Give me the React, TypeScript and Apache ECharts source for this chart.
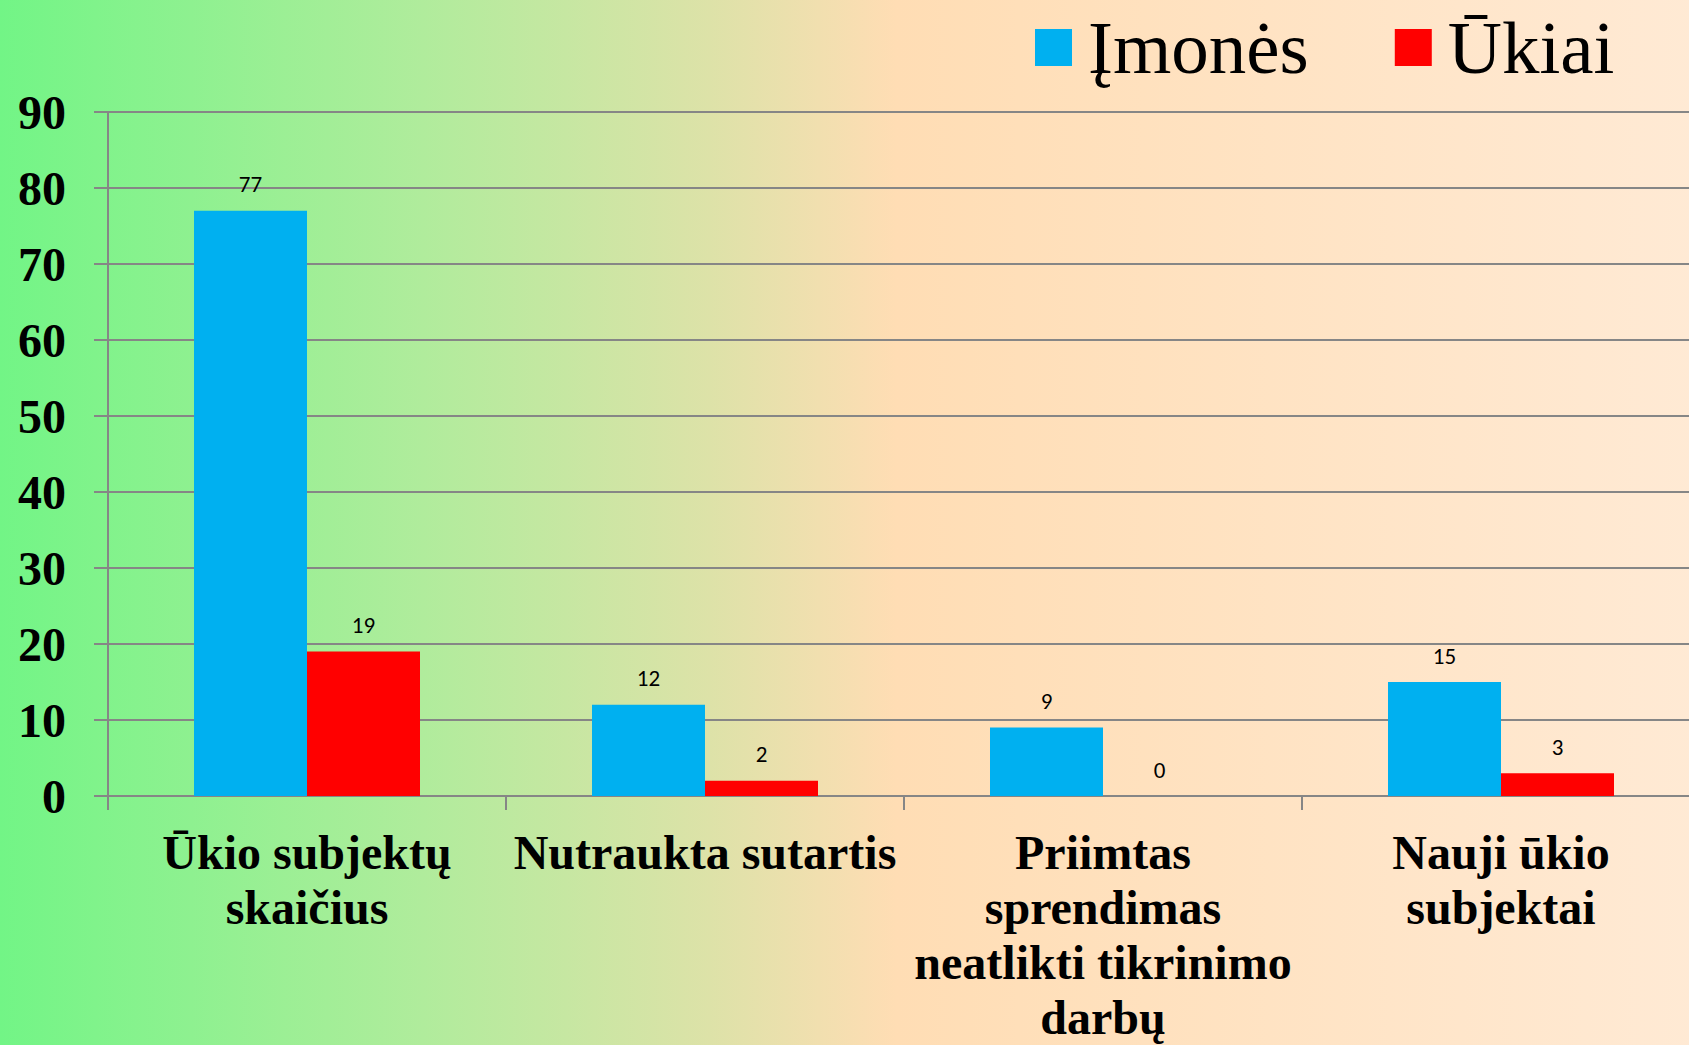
import React, { useEffect, useRef } from "react";
import * as echarts from "echarts";

const categories = [
  "Ūkio subjektų\nskaičius",
  "Nutraukta sutartis",
  "Priimtas\nsprendimas\nneatlikti tikrinimo\ndarbų",
  "Nauji ūkio\nsubjektai",
];
const seriesNames = ["Įmonės", "Ūkiai"];
const imones = [77, 12, 9, 15];
const ukiai = [19, 2, 0, 3];
const yTicks = { min: 0, max: 90, interval: 10 };

export default function App() {
  const ref = useRef<HTMLDivElement>(null);
  useEffect(() => {
    if (!ref.current) return;
    const chart = echarts.init(ref.current, null, { renderer: "svg" });
    const serif = "'Liberation Serif', 'Times New Roman', serif";
    const labelFont = "'Carlito', 'Open Sans', sans-serif";
    chart.setOption({
      animation: false,
      backgroundColor: new echarts.graphic.LinearGradient(0, 0, 1, 0, [
        { offset: 0, color: "#72F586" },
        { offset: 0.247, color: "#B0EC9C" },
        { offset: 0.415, color: "#DDE2A8" },
        { offset: 0.524, color: "#FFDDB4" },
        { offset: 1, color: "#FFEAD5" },
      ]),
      legend: {
        left: 1030,
        top: 5,
        itemWidth: 37,
        itemHeight: 37,
        itemGap: 86,
        icon: "rect",
        data: seriesNames,
        textStyle: {
          fontFamily: serif,
          fontSize: 75,
          color: "#000",
          padding: [0, 0, 0, 11],
        },
      },
      grid: { left: 108, top: 112, bottom: 246, right: 10, containLabel: false },
      xAxis: {
        type: "category",
        data: categories,
        axisLine: { show: true, lineStyle: { color: "#868686", width: 2 } },
        axisTick: { show: true, length: 14, lineStyle: { color: "#868686", width: 2 } },
        axisLabel: {
          interval: 0,
          margin: 29,
          fontFamily: serif,
          fontWeight: "bold",
          fontSize: 48,
          lineHeight: 55,
          color: "#000",
        },
      },
      yAxis: {
        type: "value",
        min: yTicks.min,
        max: yTicks.max,
        interval: yTicks.interval,
        axisLine: { show: true, lineStyle: { color: "#868686", width: 2 } },
        axisTick: { show: true, length: 14, lineStyle: { color: "#868686", width: 2 } },
        splitLine: { show: true, lineStyle: { color: "#868686", width: 2 } },
        axisLabel: {
          margin: 42,
          fontFamily: serif,
          fontWeight: "bold",
          fontSize: 48,
          color: "#000",
        },
      },
      series: [
        {
          name: seriesNames[0],
          type: "bar",
          data: imones,
          barWidth: 113,
          barGap: "0%",
          itemStyle: { color: "#00B0F0" },
          label: {
            show: true,
            position: "top",
            distance: 15,
            fontFamily: labelFont,
            fontSize: 23,
            color: "#000",
          },
        },
        {
          name: seriesNames[1],
          type: "bar",
          data: ukiai,
          barWidth: 113,
          barGap: "0%",
          itemStyle: { color: "#FF0000" },
          label: {
            show: true,
            position: "top",
            distance: 15,
            fontFamily: labelFont,
            fontSize: 23,
            color: "#000",
          },
        },
      ],
    });
    return () => chart.dispose();
  }, []);
  return (
    <div
      ref={ref}
      style={{ position: "fixed", left: 0, top: 0, width: 1710, height: 1045 }}
    />
  );
}
